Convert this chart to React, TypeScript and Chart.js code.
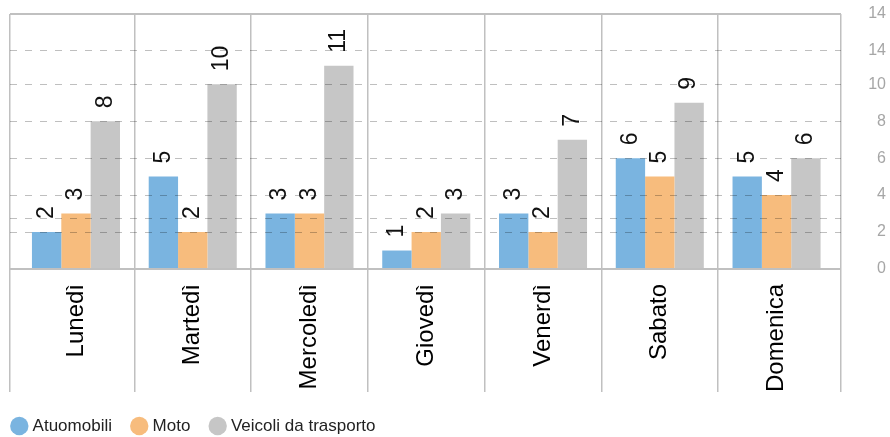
import React, { useEffect, useRef } from "react";
import { Chart, registerables } from "chart.js";

Chart.register(...registerables);

const categories = ["Lunedì", "Martedì", "Mercoledì", "Giovedì", "Venerdì", "Sabato", "Domenica"];
const seriesNames = ["Atuomobili", "Moto", "Veicoli da trasporto"];
const atuomobili = [2, 5, 3, 1, 3, 6, 5];
const moto = [3, 2, 3, 2, 2, 5, 4];
const veicoli = [8, 10, 11, 3, 7, 9, 6];
const seriesColors = ["#7AB4E0", "#F7BC7D", "#C6C6C6"];

const yTickValues = [0, 2, 2.75, 4, 6, 8, 10, 11.8, 13.8];
const yTickLabels = ["0", "2", "", "4", "6", "8", "10", "14", "14"];
const yMax = 13.8;
const xMin = -0.565;
const xMax = 6.552;

const FONT = '"Liberation Sans", Arial, sans-serif';

const valueLabels = {
  id: "valueLabels",
  afterDraw(chart: any) {
    const ctx = chart.ctx;
    ctx.save();
    ctx.font = `23px ${FONT}`;
    ctx.fillStyle = "#111";
    ctx.textAlign = "left";
    ctx.textBaseline = "middle";
    chart.data.datasets.forEach((ds: any, di: number) => {
      const meta = chart.getDatasetMeta(di);
      meta.data.forEach((bar: any, i: number) => {
        const v = ds.data[i].y;
        ctx.save();
        ctx.translate(bar.x, bar.y - 13);
        ctx.rotate(-Math.PI / 2);
        ctx.fillText(String(v), 0, 0);
        ctx.restore();
      });
    });
    ctx.restore();
  },
};

export default function App() {
  const ref = useRef<HTMLCanvasElement | null>(null);
  useEffect(() => {
    if (!ref.current) return;
    const series = [atuomobili, moto, veicoli];
    const boundaries = [xMin, ...categories.slice(1).map((_, i) => i + 0.5), xMax];
    const isEdge = (c: any) => c.tick && (c.tick.value === 0 || c.tick.value === yMax);
    const chart = new Chart(ref.current, {
      type: "bar",
      data: {
        datasets: series.map((arr, si) => ({
          label: seriesNames[si],
          data: arr.map((v, i) => ({ x: i, y: v })),
          xAxisID: "x",
          yAxisID: "y",
          backgroundColor: seriesColors[si],
          borderWidth: 0,
          categoryPercentage: 0.754,
          barPercentage: 1,
        })),
      },
      options: {
        animation: false,
        responsive: false,
        layout: { padding: { top: 14, left: -8, right: 4, bottom: 0 } },
        plugins: {
          tooltip: { enabled: false },
          legend: {
            position: "bottom",
            align: "start",
            maxHeight: 42,
            labels: {
              usePointStyle: true,
              pointStyle: "circle",
              boxWidth: 9.6,
              boxHeight: 13,
              padding: 22.5,
              color: "#222",
              font: { family: FONT, size: 17 },
            },
          },
        },
        scales: {
          y: {
            type: "linear",
            position: "right",
            min: 0,
            max: yMax,
            grid: {
              drawTicks: true,
              tickLength: 18,
              tickColor: "rgba(0,0,0,0)",
              z: 1,
              color: (c: any) => (isEdge(c) ? "#c0c0c0" : "rgba(0,0,0,0.25)"),
              lineWidth: (c: any) => (isEdge(c) ? 2 : 1),
            },
            border: {
              display: false,
              dash: (c: any) => (isEdge(c) ? [] : [7, 8]),
            },
            ticks: {
              crossAlign: "far",
              padding: 4,
              color: "#a6a6a6",
              font: { family: FONT, size: 16 },
              callback: (_v: any, i: number) => yTickLabels[i],
            },
            afterBuildTicks: (s: any) => {
              s.ticks = yTickValues.map((v) => ({ value: v }));
            },
            afterFit: (s: any) => {
              s.width = 45;
            },
          },
          x: {
            type: "linear",
            position: "bottom",
            min: xMin,
            max: xMax,
            offset: false,
            weight: 0,
            grid: {
              offset: false,
              color: "#c0c0c0",
              lineWidth: 1.5,
              drawTicks: true,
              tickLength: 123,
              tickColor: "#c0c0c0",
              tickWidth: 1.5,
            },
            border: { display: false },
            ticks: { display: false },
            afterBuildTicks: (s: any) => {
              s.ticks = boundaries.map((v) => ({ value: v }));
            },
            afterFit: (s: any) => {
              s.height = 0;
            },
          },
          x2: {
            type: "linear",
            position: "bottom",
            min: xMin,
            max: xMax,
            offset: false,
            weight: 1,
            grid: { display: false, offset: false },
            border: { display: false },
            ticks: {
              autoSkip: false,
              minRotation: 90,
              maxRotation: 90,
              padding: 7,
              color: "#000",
              font: { family: FONT, size: 24 },
              callback: (_v: any, i: number) => categories[i],
            },
            afterBuildTicks: (s: any) => {
              s.ticks = categories.map((_, i) => ({ value: i }));
            },
            afterFit: (s: any) => {
              s.height = 126;
            },
          },
          yL: {
            type: "linear",
            position: "left",
            grid: { display: false },
            border: { display: false },
            ticks: { display: false },
            afterFit: (s: any) => {
              s.width = 18;
            },
          },
        },
      } as any,
      plugins: [valueLabels],
    });
    return () => chart.destroy();
  }, []);

  return (
    <div style={{ position: "fixed", left: 0, top: 0, width: 890, height: 437, background: "#fff" }}>
      <canvas ref={ref} width={890} height={437} style={{ display: "block" }} />
    </div>
  );
}
